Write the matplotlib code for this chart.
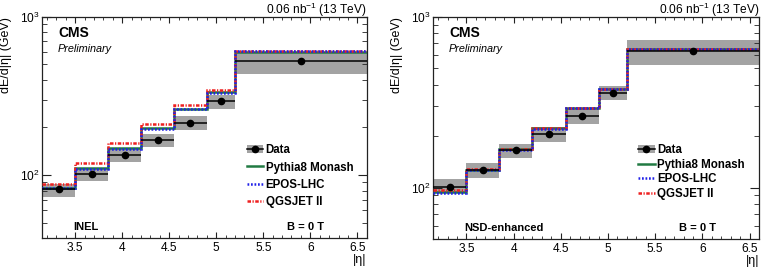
import numpy as np
import matplotlib
matplotlib.use("Agg")
import matplotlib.pyplot as plt
from matplotlib.patches import Patch
from matplotlib.lines import Line2D
from matplotlib.ticker import LogLocator, MultipleLocator, NullFormatter, FormatStrFormatter

plt.rcParams['font.family'] = ['Liberation Sans', 'DejaVu Sans']
plt.rcParams['mathtext.fontset'] = 'custom'
plt.rcParams['mathtext.rm'] = 'Liberation Sans'
plt.rcParams['mathtext.it'] = 'Liberation Sans:italic'
plt.rcParams['mathtext.bf'] = 'Liberation Sans:bold'

# |eta| bin edges (HF + CASTOR)
eta_edges = [3.15, 3.5, 3.85, 4.2, 4.55, 4.9, 5.2, 6.6]

# INEL
inel_data = [81.3, 102, 134, 167, 215, 292, 526]
inel_sys_lo = [73, 92, 121, 151, 194, 263, 436]
inel_sys_hi = [87.5, 110, 147, 183, 235, 322, 589]
inel_pythia = [83, 111, 148, 198, 261, 333, 603]
inel_epos = [83, 110, 147, 197, 260, 332, 606]
inel_qgsjet = [88.5, 120, 160, 210, 277, 346, 610]

# NSD-enhanced
nsd_data = [101.5, 127.4, 166, 205.5, 263, 358, 626]
nsd_sys_lo = [93.6, 114.5, 149, 184.6, 237, 324, 523]
nsd_sys_hi = [112, 138.8, 181, 226, 293, 391, 732]
nsd_pythia = [94.5, 127, 168, 222, 292, 378, 645]
nsd_epos = [93, 126, 167, 221, 291, 377, 646]
nsd_qgsjet = [96.5, 128, 169, 223, 293, 378, 644]

GRAY = '#a3a3a3'
GREEN = '#217a43'
BLUE = '#2020e8'
RED = '#ee2020'
LW = 1.8
DOTS = (0, (0.7, 0.7))
DASHDOT = (0, (1.4, 0.6, 0.5, 0.6))


def draw_panel(ax, data, lo, hi, pythia, epos, qgsjet, ymin, sel_label, leg_y, leg_space):
    edges = np.array(eta_edges)
    widths = np.diff(edges)
    centers = edges[:-1] + widths / 2
    lo = np.array(lo)
    hi = np.array(hi)

    # systematic boxes
    ax.bar(edges[:-1], hi - lo, bottom=lo, width=widths, align='edge',
           color=GRAY, lw=0, zorder=1)
    # data with bin-width bars
    ax.errorbar(centers, data, xerr=widths / 2, fmt='o', color='black',
                ms=4.5, elinewidth=1.1, capsize=0, zorder=5)

    # models
    ax.stairs(pythia, edges, baseline=None, color=GREEN, lw=LW, zorder=3)
    ax.stairs(qgsjet, edges, baseline=None, color=RED, lw=LW,
              linestyle=DASHDOT, zorder=3)
    ax.stairs(epos, edges, baseline=None, color=BLUE, lw=LW,
              linestyle=DOTS, zorder=4)

    ax.set_yscale('log')
    ax.set_xlim(3.15, 6.6)
    ax.set_ylim(ymin, 1000)

    ax.xaxis.set_major_locator(MultipleLocator(0.5))
    ax.xaxis.set_minor_locator(MultipleLocator(0.1))
    ax.xaxis.set_major_formatter(FormatStrFormatter('%g'))
    ax.yaxis.set_major_locator(LogLocator(base=10))
    ax.yaxis.set_minor_locator(LogLocator(base=10, subs=np.arange(2, 10)))
    ax.yaxis.set_minor_formatter(NullFormatter())
    ax.tick_params(which='both', direction='in', top=True, right=True,
                   labelsize=8.6, colors='#222222', labelcolor='black')
    ax.tick_params(axis='x', which='major', length=4.5, pad=3)
    ax.tick_params(axis='x', which='minor', length=2.2)
    ax.tick_params(axis='y', which='major', length=6.5, pad=2)
    ax.tick_params(axis='y', which='minor', length=3.5)
    for s in ax.spines.values():
        s.set_linewidth(0.9)
        s.set_color('#222222')

    ax.set_ylabel('dE/d|η| (GeV)', fontsize=9, loc='top', labelpad=6)
    ax.set_xlabel('|η|', fontsize=9, loc='right', labelpad=0)

    ax.text(0.048, 0.926, 'CMS', transform=ax.transAxes, fontsize=10,
            fontweight='bold', ha='left', va='center')
    ax.text(0.048, 0.853, 'Preliminary', transform=ax.transAxes, fontsize=7.8,
            style='italic', ha='left', va='center')
    ax.text(1.0, 1.013, r'0.06 nb$^{-1}$ (13 TeV)', transform=ax.transAxes,
            fontsize=8.6, ha='right', va='baseline')
    ax.text(0.096, 0.052, sel_label, transform=ax.transAxes, fontsize=8,
            fontweight='bold', ha='left', va='center')
    ax.text(0.867, 0.052, 'B = 0 T', transform=ax.transAxes, fontsize=8,
            fontweight='bold', ha='right', va='center')

    h_data = (Patch(facecolor=GRAY, edgecolor='none'),
              Line2D([], [], color='black', marker='o', ms=4.5, lw=1.1))
    h_py = Line2D([], [], color=GREEN, lw=LW)
    h_ep = Line2D([], [], color=BLUE, lw=LW, linestyle=DOTS)
    h_qg = Line2D([], [], color=RED, lw=LW, linestyle=DASHDOT)
    ax.legend([h_data, h_py, h_ep, h_qg],
              ['Data', 'Pythia8 Monash', 'EPOS-LHC', 'QGSJET II'],
              loc='upper left', bbox_to_anchor=(0.612, leg_y), frameon=False,
              prop={'weight': 'bold', 'size': 8.3}, handlelength=1.4,
              handletextpad=0.25, borderpad=0, labelspacing=leg_space)


fig = plt.figure(figsize=(7.64, 2.72), dpi=100)
ax1 = fig.add_axes([0.0554, 0.124, 0.4246, 0.8146])
ax2 = fig.add_axes([0.5672, 0.121, 0.4263, 0.8176])

draw_panel(ax1, inel_data, inel_sys_lo, inel_sys_hi, inel_pythia, inel_epos,
           inel_qgsjet, 40, 'INEL', 0.45, 0.45)
draw_panel(ax2, nsd_data, nsd_sys_lo, nsd_sys_hi, nsd_pythia, nsd_epos,
           nsd_qgsjet, 50, 'NSD-enhanced', 0.455, 0.25)

fig.savefig('out.png', dpi=100)
